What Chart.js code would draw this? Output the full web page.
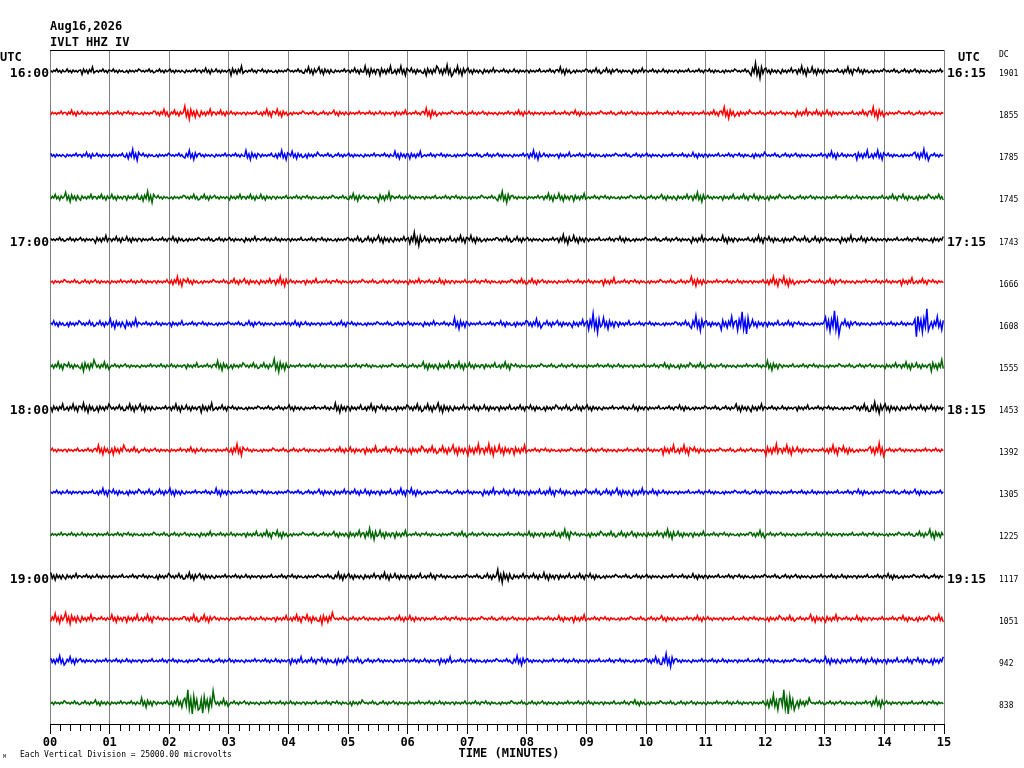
<!DOCTYPE html>
<html>
<head>
<meta charset="utf-8">
<title>IVLT HHZ IV helicorder</title>
<script src="https://cdn.jsdelivr.net/npm/chart.js@4.4.1/dist/chart.umd.min.js"></script>
<style>
  html, body { margin: 0; padding: 0; background: #fff; }
  #wrap { position: relative; width: 1024px; height: 768px; }
</style>
</head>
<body>
<div id="wrap"><canvas id="heli" width="1024" height="768"></canvas></div>
<script>
// x axis labels, one per minute
var minuteLabels = ['00', '01', '02', '03', '04', '05', '06', '07', '08', '09', '10', '11', '12', '13', '14', '15'];
// hour marks, every 4th line (15 min per line)
var leftHours = ['16:00', '17:00', '18:00', '19:00'];
var rightHours = ['16:15', '17:15', '18:15', '19:15'];
// DC offset printed at the right of each line
var dcValues = [1901, 1855, 1785, 1745, 1743, 1666, 1608, 1555, 1453, 1392, 1305, 1225, 1117, 1051, 942, 838];
// peak amplitude per 15 s window, one base-36 digit each, in 1/42 of a vertical division
var traceAmps = [
  '2242222222 3252222442 3555356533 2222423323 2222222833 5424322222',
  '2322222437 4322442223 2223252222 2322232222 2222363222 4332362222',
  '2232262225 2225254322 2224422222 2252322222 2223222322 2242552262',
  '3533336223 3233322222 4252222222 6224442222 2335233332 2222223333',
  '2224332232 2223222222 3343733442 3322542232 2224242433 3324322223',
  '2222222253 2233352322 2222323222 2332222422 2225222255 2232222432',
  '3333552232 2223223223 2222232622 335334a632 223837c433 22d42222f7',
  '4364222223 2533372222 2222244433 4222222222 2333222252 2222223436',
  '4454344243 5322223225 3433445333 3333333223 2232224422 3222464333',
  '2225532223 2262222223 3433444566 5522222222 2553222265 3254272222',
  '2224333342 2422222233 3334422224 3334333344 3222222222 2222322232',
  '2222222222 3223442223 4644222322 2233523333 3533222422 2222222235',
  '4322222334 3222222224 3343332223 7334333222 2223222222 2222223222',
  '5642444224 4222234462 2223322222 2222342222 2323222233 2442322334',
  '5422222222 2222224334 3222224222 2522222222 4722222222 2243333334',
  '222322525d c422222222 3222222222 2222222223 222222228d 5222252222'
];

var traceColors = ['#000000', '#ff0000', '#0000ff', '#006600'];
var wiggle = [0.25, -0.55, 0.35, -0.2, 1.0, -0.45, 0.3, -0.85, 0.5, -0.3];
var STEPS = wiggle.length;
var BIN = 0.25;
var DIV = 42;

var datasets = [];
for (var r = 0; r < traceAmps.length; r++) {
  var s = traceAmps[r].replace(/ /g, '');
  var pts = [];
  for (var b = 0; b < s.length; b++) {
    var a = parseInt(s[b], 36) / DIV;
    for (var k = 0; k < STEPS; k++) {
      var w = wiggle[(k + b * 3 + r * 7) % STEPS];
      pts.push({x: (b + (k + 0.5) / STEPS) * BIN, y: -r + a * w});
    }
  }
  datasets.push({
    data: pts,
    borderColor: traceColors[r % 4],
    borderWidth: 1.5,
    pointRadius: 0,
    fill: false,
    tension: 0
  });
}

var MONO = '"DejaVu Sans Mono", "Liberation Mono", monospace';

var heliText = {
  id: 'heliText',
  afterDraw: function (chart) {
    var ctx = chart.ctx;
    var area = chart.chartArea;
    var xs = chart.scales.x;
    var ys = chart.scales.y;
    ctx.save();
    // top frame line
    ctx.strokeStyle = '#000';
    ctx.lineWidth = 1;
    ctx.beginPath();
    ctx.moveTo(area.left, area.top + 0.5);
    ctx.lineTo(area.right, area.top + 0.5);
    ctx.stroke();
    // minor ticks every 10 seconds
    ctx.beginPath();
    for (var k = 1; k < 90; k++) {
      if (k % 6 === 0) continue;
      var px = Math.round(xs.getPixelForValue(k / 6)) + 0.5;
      ctx.moveTo(px, area.bottom);
      ctx.lineTo(px, area.bottom + 7);
    }
    ctx.stroke();

    ctx.fillStyle = '#000';
    ctx.textBaseline = 'alphabetic';
    ctx.textAlign = 'left';
    ctx.font = 'bold 12px ' + MONO;
    ctx.fillText('Aug16,2026', 50, 30);
    ctx.fillText('IVLT HHZ IV', 50, 46);
    ctx.fillText('UTC', 0, 61);
    ctx.fillText('UTC', 958, 61);

    ctx.font = 'bold 13px ' + MONO;
    for (var h = 0; h < leftHours.length; h++) {
      var py = ys.getPixelForValue(-h * 4);
      ctx.textAlign = 'right';
      ctx.fillText(leftHours[h], 49, py + 6);
      ctx.textAlign = 'left';
      ctx.fillText(rightHours[h], 947, py + 6);
    }

    ctx.textAlign = 'left';
    ctx.font = '8px ' + MONO;
    ctx.fillText('DC', 999, 57);
    for (var i = 0; i < dcValues.length; i++) {
      ctx.fillText(String(dcValues[i]), 999, ys.getPixelForValue(-i) + 5);
    }
    ctx.fillText('Each Vertical Division = 25000.00 microvolts', 20, 757);
    ctx.font = '5px ' + MONO;
    ctx.fillText('M', 3, 758);

    ctx.font = 'bold 12px ' + MONO;
    ctx.textAlign = 'center';
    ctx.fillText('TIME (MINUTES)', 509, 757);
    ctx.restore();
  }
};

new Chart(document.getElementById('heli'), {
  type: 'line',
  data: {datasets: datasets},
  options: {
    responsive: false,
    animation: false,
    parsing: false,
    layout: {padding: {left: 50, right: 80, top: 50, bottom: 0}},
    plugins: {legend: {display: false}, tooltip: {enabled: false}},
    scales: {
      x: {
        type: 'linear',
        min: 0,
        max: 15,
        ticks: {
          stepSize: 1,
          autoSkip: false,
          maxRotation: 0,
          padding: 2,
          color: '#000',
          font: {family: MONO, size: 12, weight: 'bold'},
          callback: function (v) { return minuteLabels[v]; }
        },
        grid: {color: '#808080', lineWidth: 1, tickColor: '#000', tickLength: 10},
        border: {color: '#000', width: 1},
        afterFit: function (scale) { scale.height = 44; }
      },
      y: {type: 'linear', min: -15.5, max: 0.5, display: false}
    }
  },
  plugins: [heliText]
});
</script>
</body>
</html>
